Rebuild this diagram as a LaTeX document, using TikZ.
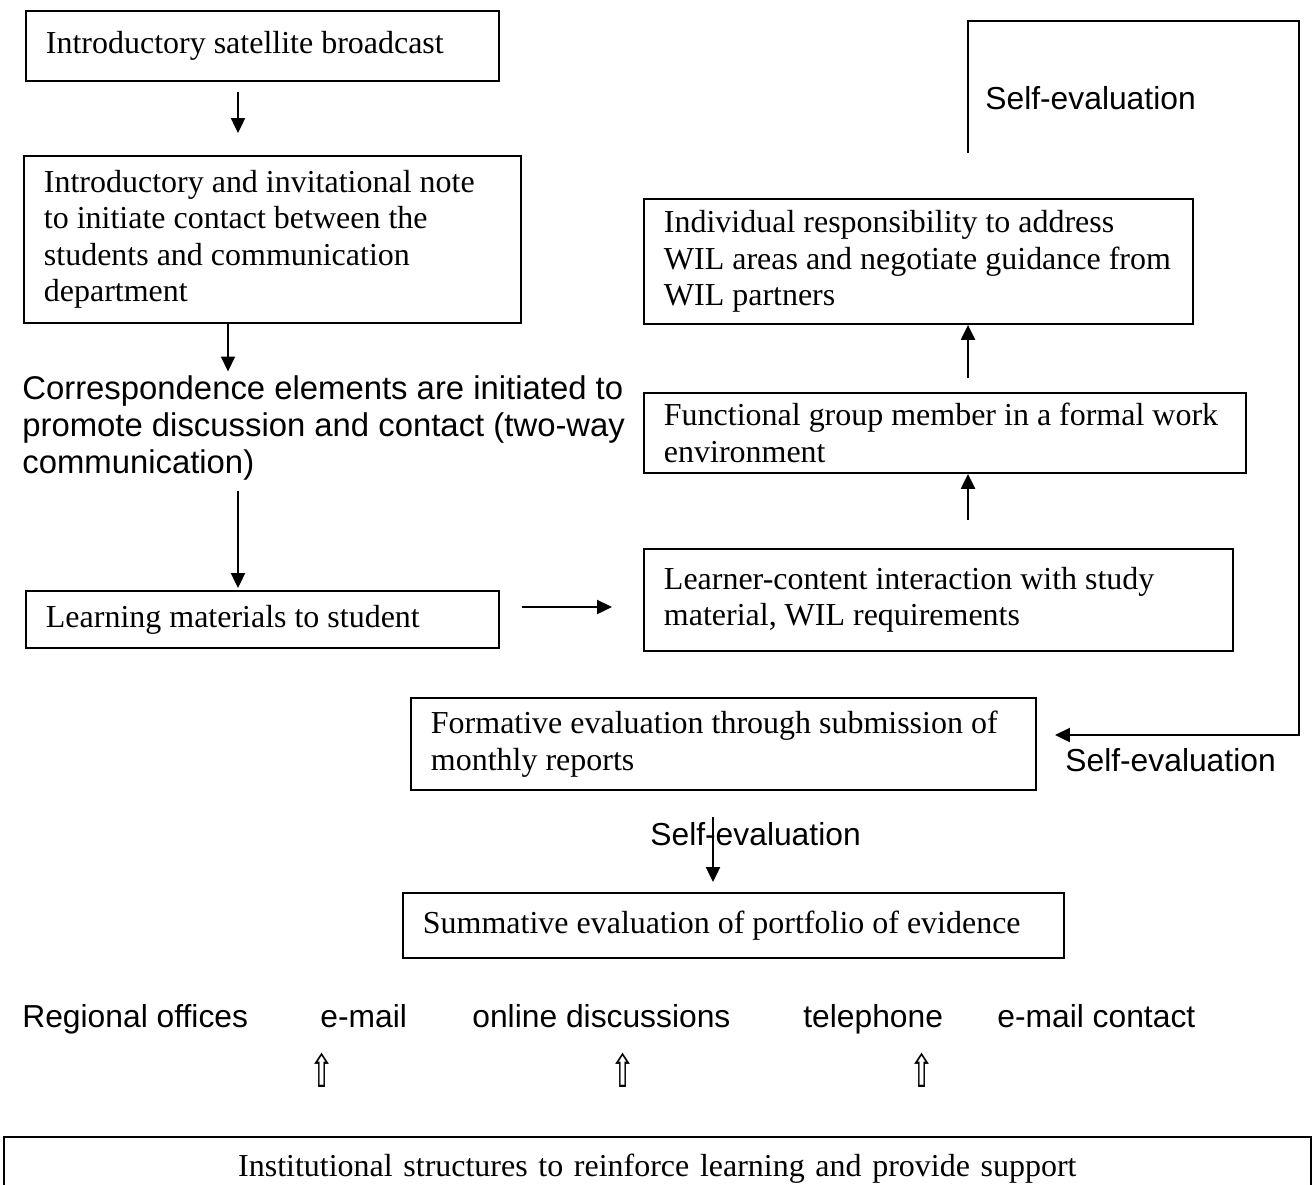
\documentclass[tikz,border=0pt]{standalone}
\usepackage{fontspec}
\setmainfont{Liberation Serif}
\setsansfont{Liberation Sans}
\newfontfamily\dejavu{DejaVu Sans}
\usetikzlibrary{arrows.meta}
\newcommand{\boxfont}{\fontsize{18.2}{20.8}\selectfont}
\newcommand{\labfont}{\sffamily\fontsize{18.1}{21}\selectfont}
\newcommand{\boxtext}[1]{\leftskip=0.4cm\relax #1\par}
\tikzset{
  box/.style={draw, line width=1.1pt, font=\boxfont, align=flush left,
    anchor=north west, inner sep=0pt},
  lab/.style={font=\labfont, inner sep=0pt, anchor=west},
  arr/.style={line width=1.1pt, -{Triangle[length=8.5pt,width=8pt]}},
  hollow/.style={font=\dejavu\fontsize{20}{20}\selectfont, inner sep=0pt}
}

\begin{document}
\begin{tikzpicture}[x=0.02cm, y=-0.02cm]
  \useasboundingbox (0,0) rectangle (1312,1184);
  \clip (0,0) rectangle (1312,1184);

  % arrow columns and corners
  \coordinate (colA) at (238,0);
  \coordinate (colB) at (228,0);
  \coordinate (colC) at (968,0);
  \coordinate (colD) at (713,0);
  \coordinate (rowA) at (0,607);
  \coordinate (fbTop) at (1299,21);
  \coordinate (fbEnd) at (1055,735);

  % left column
  \node[box, text width=9.46cm, minimum height=1.4cm] (bcast) at (25,10)
    {\boxtext{Introductory satellite broadcast}};
  \node[box, text width=9.94cm, minimum height=3.34cm] (note) at (23,155)
    {\boxtext{Introductory and invitational note\\to initiate contact between the\\students and communication\\department}};
  \node[lab, align=left, font=\sffamily\fontsize{18.7}{21}\selectfont] (corr) at (22,428)
    {Correspondence elements are initiated to\\promote discussion and contact (two-way\\communication)};
  \node[box, text width=9.46cm, minimum height=1.14cm] (materials) at (25,590)
    {\boxtext{Learning materials to student}};

  % right column
  \node[box, text width=11.78cm, minimum height=2.04cm] (learner) at (643,548)
    {\boxtext{Learner-content interaction with study\\material, WIL requirements}};
  \node[box, text width=12.04cm, minimum height=1.6cm] (functional) at (643,392)
    {\boxtext{Functional group member in a formal work\\environment}};
  \node[box, text width=10.98cm, minimum height=2.5cm] (individual) at (643,198)
    {\boxtext{Individual responsibility to address\\WIL areas and negotiate guidance from\\WIL partners}};

  % evaluation
  \node[box, text width=12.5cm, minimum height=1.84cm] (formative) at (410,697)
    {\boxtext{Formative evaluation through submission of\\monthly reports}};
  \node[box, text width=13.22cm, minimum height=1.3cm] (summative) at (402,892)
    {\boxtext{Summative evaluation of portfolio of evidence}};

  \node[lab] (selfA) at (985,98) {Self-evaluation};
  \node[lab] (selfB) at (1065,760) {Self-evaluation};
  \node[lab] (selfC) at (650,834) {Self-evaluation};

  % support channels
  \node[lab, anchor=base west] (regional) at (22,1027) {Regional offices};
  \node[lab, anchor=base west] (email) at (320,1027) {e-mail};
  \node[lab, anchor=base west] (online) at (472,1027) {online discussions};
  \node[lab, anchor=base west] (phone) at (803,1027) {telephone};
  \node[lab, anchor=base west] (contact) at (997,1027) {e-mail contact};
  \foreach \x/\n in {322/upA, 623/upB, 922/upC}
    \node[hollow] (\n) at (\x,1070) {\scalebox{0.85}[1.3]{⇧}};
  \node[box, align=center, text width=26.14cm, minimum height=1.28cm] (support) at (3,1136)
    {Institutional structures to reinforce learning and provide support};

  % connectors
  \draw[arr, shorten <=0.2cm, shorten >=0.44cm] (bcast.south -| colA) -- (note.north -| colA);
  \draw[arr, shorten >=0.08cm] (note.south -| colB) -- (corr.north -| colB);
  \draw[arr, shorten <=0.2cm, shorten >=0.04cm] (corr.south -| colA) -- (materials.north -| colA);
  \draw[arr, shorten <=0.44cm, shorten >=0.62cm] (materials.east |- rowA) -- (learner.west |- rowA);
  \draw[arr, shorten <=0.56cm] (learner.north -| colC) -- (functional.south -| colC);
  \draw[arr, shorten <=0.28cm] (functional.north -| colC) -- (individual.south -| colC);
  \draw[arr, shorten <=0.9cm] (individual.north -| colC) |- (fbTop) |- (fbEnd);
  \draw[arr, shorten <=0.52cm, shorten >=0.2cm] (formative.south -| colD) -- (summative.north -| colD);
\end{tikzpicture}
\end{document}
